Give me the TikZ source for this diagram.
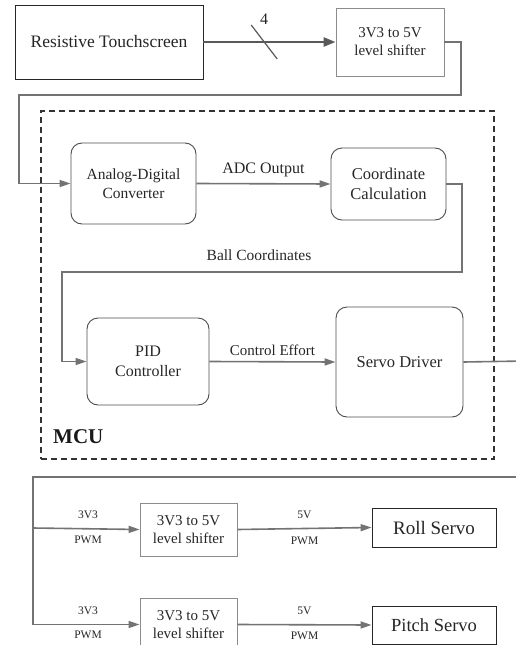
\documentclass[tikz,border=0pt]{standalone}
\usepackage{fontspec}
\setmainfont{LiberationSerif}[Extension=.ttf, UprightFont=*-Regular, BoldFont=*-Bold, ItalicFont=*-Italic, BoldItalicFont=*-BoldItalic]
\usetikzlibrary{arrows.meta}
\begin{document}
\begin{tikzpicture}[x=1pt,y=-1pt,
  every node/.style={text=black!85, align=center, inner sep=0pt},
  sqbox/.style={draw=black!85, line width=0.9pt},
  shbox/.style={draw=black!45, line width=0.9pt, minimum width=97pt, minimum height=53pt, font=\fontsize{15}{18}\selectfont},
  rbox/.style={draw=black!70, line width=0.9pt, rounded corners=11pt},
  wire/.style={draw=black!55, line width=1.6pt},
  arr/.style={wire, -{Triangle[length=11pt,width=7pt]}},
  lab/.style={font=\fontsize{16}{19}\selectfont},
  slab/.style={font=\fontsize{11.5}{14}\selectfont}
]
\useasboundingbox (0,0) rectangle (516,645);
\begin{scope}
\clip (0,0) rectangle (516,645);
% nodes
\node[sqbox, minimum width=188pt, minimum height=74pt, font=\fontsize{17.5}{21}\selectfont] (rt) at (109,42) {Resistive Touchscreen};
\node[shbox, minimum width=108pt, minimum height=68pt] (ls1) at (390,42) {3V3 to 5V\\level shifter};
\node[draw=black!80, dashed, dash pattern=on 6pt off 4pt, line width=1.4pt, minimum width=453pt, minimum height=348pt] (mcu) at (267.5,285) {};
\node[font=\bfseries\fontsize{21}{24}\selectfont, text=black!90, anchor=west] (mculab) at (53,437) {MCU};
\node[rbox, minimum width=125pt, minimum height=81pt, font=\fontsize{15.5}{19}\selectfont] (adc) at (133.5,183.5) {Analog-Digital\\Converter};
\node[rbox, minimum width=115pt, minimum height=72pt, font=\fontsize{16.5}{19.5}\selectfont] (cc) at (388.5,184) {Coordinate\\Calculation};
\node[rbox, minimum width=122pt, minimum height=87pt, font=\fontsize{16}{19.5}\selectfont] (pid) at (148,361.5) {PID\\Controller};
\node[rbox, minimum width=127pt, minimum height=110pt, font=\fontsize{16.5}{20}\selectfont] (sd) at (399.5,362) {Servo Driver};
\node[shbox] (ls2) at (188.5,529.5) {3V3 to 5V\\level shifter};
\node[shbox] (ls3) at (188.5,624.5) {3V3 to 5V\\level shifter};
\node[sqbox, minimum width=124pt, minimum height=39pt, font=\fontsize{19}{22}\selectfont] (roll) at (434,527.5) {Roll Servo};
\node[sqbox, minimum width=124pt, minimum height=38pt, font=\fontsize{18.5}{22}\selectfont] (pitch) at (434,625) {Pitch Servo};
% coordinates
\coordinate (c1) at (461,95);
\coordinate (c2) at (19,95);
\coordinate (c3) at (462,272);
\coordinate (c4) at (62,272);
\coordinate (c5) at (525,361);
\coordinate (c6) at (525,477);
\coordinate (c7) at (33,477);
\coordinate (c8) at (33,528);
% connectors
\draw[wire, draw=black!65, line width=2.6pt, -{Triangle[length=12pt,width=9pt]}] (rt.east) -- coordinate[pos=0.46] (sl) (ls1.west);
\draw[black!65, line width=1.2pt] ([shift={(-13,-17)}]sl) -- ([shift={(13,17)}]sl);
\node[font=\fontsize{16}{19}\selectfont] (four) at (264,19) {4};
\draw[arr] (ls1.east) -| (c1) -- (c2) |- (adc.west);
\draw[arr] (adc.east) -- node[lab, above=6pt] (l1) {ADC Output} (cc.west);
\draw[arr] (cc.east) -| (c3) -- (c4) |- (pid.west);
\node[lab, font=\fontsize{15.5}{19}\selectfont] (l2) at (259,255) {Ball Coordinates};
\draw[arr] (pid.east) -- node[lab, font=\fontsize{15}{18}\selectfont, above=5pt] (l3) {Control Effort} (sd.west);
\draw[wire] (sd.east) -- (c5);
\draw[wire] (c6) -- (c7) -- (ls3.west -| c7);
\draw[arr] (c8) -- (ls2.west);
\draw[arr] (ls3.west -| c7) -- (ls3.west);
\node[slab] at (88,515) {3V3};
\node[slab] at (88,540) {PWM};
\node[slab] at (88,611) {3V3};
\node[slab] at (88,635) {PWM};
\draw[arr] (ls2.east) -- node[slab, above=9pt] {5V} node[slab, below=8pt] {PWM} (roll.west);
\draw[arr] (ls3.east) -- node[slab, above=9pt] {5V} node[slab, below=6pt] {PWM} (pitch.west);
\end{scope}
\end{tikzpicture}
\end{document}
